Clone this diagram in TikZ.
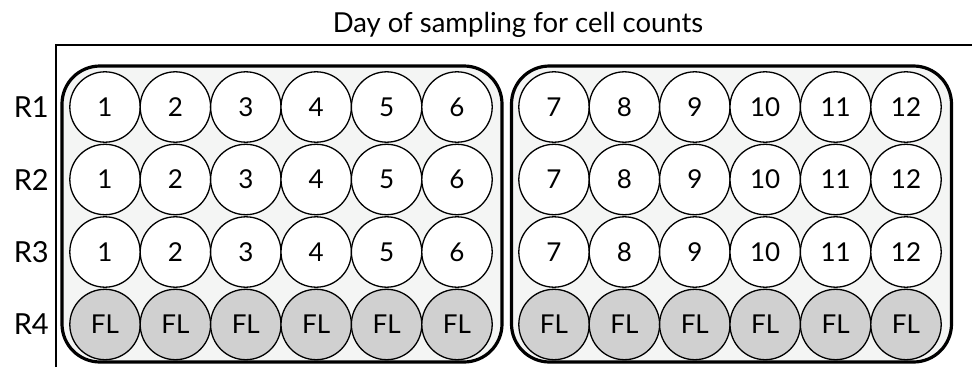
\documentclass[tikz,border=0pt]{standalone}
\usepackage{fontspec}
\setmainfont{Lato}[Numbers=Lining]
\usepackage{xcolor}
\usepackage{tikz}
\usetikzlibrary{positioning}

\definecolor{platefill}{HTML}{F4F5F4}
\definecolor{flfill}{HTML}{D0D0D0}

\begin{document}
\begin{tikzpicture}[
    x=1pt, y=-1pt,
    plate/.style={rectangle, draw, rounded corners=38pt, line width=3.2pt, fill=platefill, minimum width=440pt, minimum height=296pt, inner sep=0pt},
    well/.style={circle, draw, line width=1.3pt, fill=white, minimum size=70.4pt, inner sep=0pt, font=\fontsize{26}{26}\selectfont},
    flwell/.style={well, fill=flfill},
    rowlabel/.style={anchor=east, inner sep=0pt, font=\fontsize{29}{29}\selectfont}
]
\useasboundingbox (0,0) rectangle (972,367);

% Title and frame
\node[anchor=base, font=\fontsize{27.5}{27.5}\selectfont] (title) at (518,32) {Day of sampling for cell counts};
\coordinate (frametop) at (972,45);
\coordinate (framebot) at (56,367);
\draw[line width=1.3pt] (framebot) |- (frametop);

% Plates
\node[plate] (plateA) at (282,214) {};
\node[plate] (plateB) at (731.5,214) {};

% Row labels
\foreach \r in {1,...,4}
    \node[rowlabel] (row\r) at (49,{107+72.5*(\r-1)}) {R\r};

% Wells - days 1 to 6
\foreach \r in {1,2,3}
    \foreach \c in {1,...,6}
        \node[well] (w\r-\c) at ({105+70.4*(\c-1)},{107+72.5*(\r-1)}) {\c};

% Wells - days 7 to 12
\foreach \r in {1,2,3}
    \foreach \c in {7,...,12}
        \node[well] (w\r-\c) at ({554+70.4*(\c-7)},{107+72.5*(\r-1)}) {\c};

% Wells - FL row
\foreach \c in {1,...,6}
    \node[flwell] (fl-\c) at ({105+70.4*(\c-1)},324.5) {FL};
\foreach \c in {7,...,12}
    \node[flwell] (fl-\c) at ({554+70.4*(\c-7)},324.5) {FL};

\end{tikzpicture}
\end{document}
